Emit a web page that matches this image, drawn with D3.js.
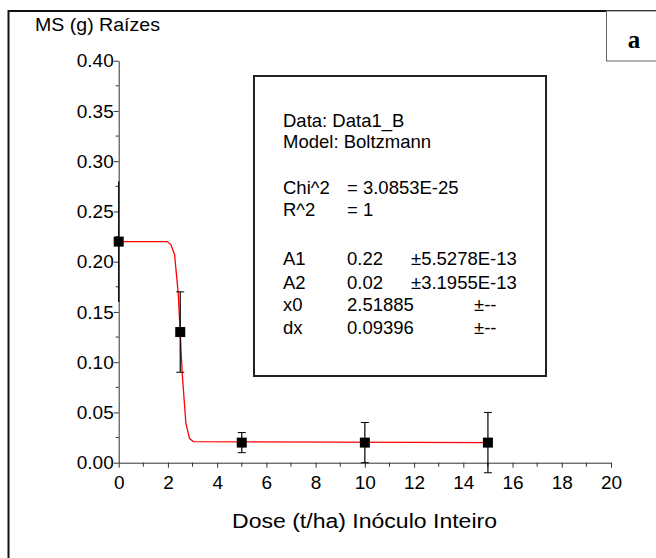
<!DOCTYPE html>
<html>
<head>
<meta charset="utf-8">
<script src="https://cdn.jsdelivr.net/npm/d3@7"></script>
<style>
  body { margin: 0; background: #fff; }
  text { font-family: Arial, "Liberation Sans", sans-serif; }
</style>
</head>
<body>
<div id="chart"></div>
<script>
// Data
const doses = [0, 2.5, 5, 10, 15];
const meanMS = [0.22, 0.13, 0.02, 0.02, 0.02];
const errLow = [0.16, 0.09, 0.01, 0.0, -0.01];
const errHigh = [0.28, 0.17, 0.03, 0.04, 0.05];

// fitted Boltzmann line, vertices as drawn
const fitX = [0, 1.97, 2.12, 2.27, 2.42, 2.58, 2.73, 2.88, 3.03, 15];
const fitY = [0.22, 0.22, 0.217, 0.207, 0.168, 0.089, 0.039, 0.024, 0.021, 0.02];

const xTicks = [0, 2, 4, 6, 8, 10, 12, 14, 16, 18, 20];
const yTicks = [0, 0.05, 0.1, 0.15, 0.2, 0.25, 0.3, 0.35, 0.4];

const legendLines = [
  ['Data: Data1_B'],
  ['Model: Boltzmann'],
  null,
  ['Chi^2', '=  3.0853E-25'],
  ['R^2', '=  1'],
  null,
  ['A1', '0.22', '±5.5278E-13'],
  ['A2', '0.02', '±3.1955E-13'],
  ['x0', '2.51885', '', '±--'],
  ['dx', '0.09396', '', '±--']
];

const dimensions = {
  width: 656,
  height: 558,
  left: 118.7,
  right: 611,
  top: 60.7,
  bottom: 462.7
}

const drawChart = (id) => {
  const svg = d3.select(id)
    .append('svg')
    .attr('width', dimensions.width)
    .attr('height', dimensions.height);

  // outer frame (runs off right and bottom)
  svg.append('rect')
    .attr('x', 8.5).attr('y', 11)
    .attr('width', 700).attr('height', 600)
    .attr('fill', 'none')
    .attr('stroke', '#111')
    .attr('stroke-width', 2);

  // panel letter box
  svg.append('rect')
    .attr('x', 606.5).attr('y', 11)
    .attr('width', 60).attr('height', 50)
    .attr('fill', '#fff')
    .attr('stroke', '#666')
    .attr('stroke-width', 1);
  svg.append('text')
    .attr('x', 634).attr('y', 48)
    .attr('text-anchor', 'middle')
    .style('font-family', '"Liberation Serif", "Times New Roman", serif')
    .style('font-weight', 'bold')
    .style('font-size', '25px')
    .text('a');

  // Scales
  const xScale = d3.scaleLinear()
    .domain([0, 20])
    .range([dimensions.left, dimensions.right]);

  const yScale = d3.scaleLinear()
    .domain([0, 0.4])
    .range([dimensions.bottom, dimensions.top]);

  // Axes
  const xAxis = d3.axisBottom(xScale)
    .tickValues(xTicks)
    .tickSize(5)
    .tickPadding(8)
    .tickSizeOuter(0)
    .tickFormat(d3.format('d'));

  const xAxisGroup = svg.append('g')
    .attr('transform', `translate(0, ${dimensions.bottom})`)
    .call(xAxis);

  svg.append('g')
    .selectAll('line')
    .data(d3.range(1, 20, 2))
    .join('line')
    .attr('x1', d => xScale(d)).attr('x2', d => xScale(d))
    .attr('y1', dimensions.bottom).attr('y2', dimensions.bottom + 4)
    .attr('stroke', '#333');

  const yAxis = d3.axisLeft(yScale)
    .tickValues(yTicks)
    .tickSize(5)
    .tickPadding(0)
    .tickSizeOuter(0)
    .tickFormat(d3.format('.2f'));

  const yAxisGroup = svg.append('g')
    .attr('transform', `translate(${dimensions.left}, 0)`)
    .call(yAxis);

  svg.append('g')
    .selectAll('line')
    .data(d3.range(0.025, 0.4, 0.05))
    .join('line')
    .attr('x1', dimensions.left - 3).attr('x2', dimensions.left)
    .attr('y1', d => yScale(d)).attr('y2', d => yScale(d))
    .attr('stroke', '#333');

  [xAxisGroup, yAxisGroup].forEach(g => {
    g.select('.domain').attr('stroke', '#333');
    g.selectAll('.tick line').attr('stroke', '#333');
    g.selectAll('text')
      .attr('fill', '#000')
      .style('font-size', '19px')
      .style('font-family', 'Arial, "Liberation Sans", sans-serif');
  });

  // Axis titles
  svg.append('text')
    .attr('x', 35).attr('y', 31)
    .style('font-size', '19px')
    .attr('textLength', 125)
    .attr('lengthAdjust', 'spacingAndGlyphs')
    .text('MS (g) Raízes');

  svg.append('text')
    .attr('x', 232)
    .attr('y', 528)
    .style('font-size', '20px')
    .attr('textLength', 265)
    .attr('lengthAdjust', 'spacingAndGlyphs')
    .text('Dose (t/ha) Inóculo Inteiro');

  // Fitted curve
  const fit = fitX.map((x, i) => ({ x, y: fitY[i] }));
  const line = d3.line()
    .x(d => xScale(d.x))
    .y(d => yScale(d.y));

  svg.append('path')
    .datum(fit)
    .attr('d', line)
    .attr('fill', 'none')
    .attr('stroke', '#ff0000')
    .attr('stroke-width', 1.3);

  // Error bars and points
  const points = doses.map((x, i) => ({
    x, y: meanMS[i], lo: errLow[i], hi: errHigh[i]
  }));

  const bars = svg.append('g');
  bars.selectAll('line.err')
    .data(points)
    .join('line')
    .classed('err', true)
    .attr('x1', d => xScale(d.x)).attr('x2', d => xScale(d.x))
    .attr('y1', d => yScale(d.lo)).attr('y2', d => yScale(d.hi))
    .attr('stroke', '#000')
    .attr('stroke-width', 1.2);

  bars.selectAll('path.cap')
    .data(points.filter(d => d.x > 0))
    .join('path')
    .classed('cap', true)
    .attr('d', d => {
      const x = xScale(d.x);
      return `M${x - 4},${yScale(d.lo)}H${x + 4}M${x - 4},${yScale(d.hi)}H${x + 4}`;
    })
    .attr('stroke', '#000')
    .attr('fill', 'none');

  svg.append('g')
    .selectAll('rect')
    .data(points)
    .join('rect')
    .attr('x', d => xScale(d.x) - 5)
    .attr('y', d => yScale(d.y) - 5)
    .attr('width', 10)
    .attr('height', 10)
    .attr('fill', '#000');

  // Fit parameters box
  svg.append('rect')
    .attr('x', 254).attr('y', 76)
    .attr('width', 292).attr('height', 300)
    .attr('fill', 'none')
    .attr('stroke', '#222')
    .attr('stroke-width', 2);

  const colX = [283, 347, 411, 474];
  const rowY = [127, 148, null, 194, 216, null, 265, 289, 311, 334];

  const legend = svg.append('g')
    .style('font-size', '18.5px');

  legendLines.forEach((row, i) => {
    if (!row) return;
    row.forEach((cell, j) => {
      if (!cell) return;
      legend.append('text')
        .attr('x', colX[j])
        .attr('y', rowY[i])
        .text(cell);
    });
  });
}

drawChart('#chart');
</script>
</body>
</html>
